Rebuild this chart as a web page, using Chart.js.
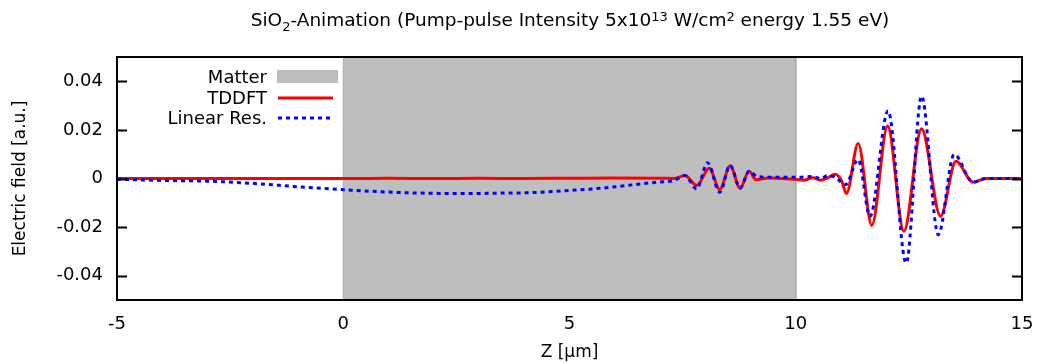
<!DOCTYPE html>
<html lang="en">
<head>
<meta charset="UTF-8" />
<title>SiO2-Animation</title>
<script src="https://cdn.jsdelivr.net/npm/chart.js@4"></script>
<style>
  html, body { margin: 0; padding: 0; background: #fff; }
  #wrap { width: 1038px; height: 363px; }
</style>
</head>
<body>
<div id="wrap"><canvas id="fieldPlot"></canvas></div>
<script>
const zTicks = [-5, 0, 5, 10, 15];
const fieldTicks = [-0.04, -0.02, 0, 0.02, 0.04];

// matter slab (0..10 um), drawn as a filled box
const matterZ = [0, 0, 10, 10];
const matterE = [-0.05, 0.05, 0.05, -0.05];

const tddftZ = [-5, -3, -1, 0, 1, 2, 3, 4, 5, 6, 7, 7.3, 7.55, 7.81, 8.09, 8.32, 8.55, 8.77, 8.97, 9.12, 9.4, 9.7,
  10.02, 10.17, 10.39, 10.54, 10.68, 10.87, 11.01, 11.12, 11.38, 11.68, 12.03, 12.39, 12.78, 13.2, 13.54, 13.92, 14.2, 15];
const tddftE = [0, 0, 0, 0, 0.0001, 0, 0.0001, 0, 0.0001, 0.0002, 0.0001, 0, 0.0012, -0.0028, 0.0042, -0.0045, 0.0052, -0.004, 0.003, -0.0005, 0.0002, 0,
  -0.0004, -0.0007, 0.0003, -0.0007, 0, 0.0018, -0.0008, -0.0062, 0.0144, -0.0193, 0.0216, -0.0217, 0.0205, -0.0155, 0.0071, -0.0015, 0, 0];

const linResZ = [-5, -4, -3, -2, -1, 0, 1, 2, 2.8, 3.5, 4.2, 4.9, 5.7, 6.4, 7, 7.3, 7.55, 7.81, 8.05, 8.32, 8.55, 8.77, 8.97, 9.15, 9.5, 10,
  10.35, 10.55, 10.71, 10.87, 11.1, 11.38, 11.64, 12.04, 12.44, 12.78, 13.15, 13.5, 13.92, 14.2, 15];
const linResE = [-0.0003, -0.0008, -0.0011, -0.002, -0.0034, -0.0046, -0.0056, -0.0061, -0.0062, -0.006, -0.0058, -0.005, -0.004, -0.0026, -0.0014, -0.0009, 0.0012, -0.0043, 0.0065, -0.0057, 0.0054, -0.0039, 0.003, 0.0008, 0.0005, 0.0005,
  0.0008, 0, 0.0012, 0.0005, -0.0025, 0.0078, -0.0155, 0.0278, -0.0348, 0.0339, -0.0231, 0.0099, -0.0015, 0, 0];

const legendLabels = ["Matter", "TDDFT", "Linear Res."];
const titleParts = [
  { text: "SiO", shift: 0 },
  { text: "2", shift: 1 },
  { text: "-Animation (Pump-pulse Intensity 5x10", shift: 0 },
  { text: "13", shift: -1 },
  { text: " W/cm", shift: 0 },
  { text: "2", shift: -1 },
  { text: " energy 1.55 eV)", shift: 0 },
];

const FONT = "'DejaVu Sans', sans-serif";
const toPoints = (xs, ys) => xs.map((x, i) => ({ x, y: ys[i] }));

const framePlugin = {
  id: "frame",
  afterDatasetsDraw(chart) {
    const { ctx, chartArea: a, scales } = chart;
    ctx.save();
    ctx.strokeStyle = "#000";
    ctx.lineWidth = 2;
    ctx.strokeRect(a.left, a.top, a.right - a.left, a.bottom - a.top);
    ctx.beginPath();
    fieldTicks.forEach((v) => {
      const y = Math.round(scales.y.getPixelForValue(v)) + 0.5;
      ctx.moveTo(a.left, y); ctx.lineTo(a.left + 10, y);
      ctx.moveTo(a.right, y); ctx.lineTo(a.right - 10, y);
    });
    ctx.stroke();
    ctx.restore();
  },
  afterDraw(chart) {
    const { ctx } = chart;
    ctx.save();
    ctx.fillStyle = "#000";
    ctx.textBaseline = "alphabetic";

    // title with sub/superscripts
    const big = "18.5px " + FONT, small = "13px " + FONT;
    let total = 0;
    titleParts.forEach((p) => { ctx.font = p.shift ? small : big; total += ctx.measureText(p.text).width; });
    let x = 570 - total / 2;
    titleParts.forEach((p) => {
      ctx.font = p.shift ? small : big;
      ctx.fillText(p.text, x, 26 + p.shift * 5);
      x += ctx.measureText(p.text).width;
    });

    // key, top left inside the plot
    ctx.font = "18px " + FONT;
    ctx.textAlign = "right";
    const rows = [83, 104, 124];
    legendLabels.forEach((t, i) => ctx.fillText(t, 267, rows[i]));
    ctx.fillStyle = "#bebebe";
    ctx.fillRect(277, 70, 61, 13);
    ctx.lineWidth = 3;
    ctx.strokeStyle = "#ff0000";
    ctx.beginPath(); ctx.moveTo(278, 98); ctx.lineTo(333, 98); ctx.stroke();
    ctx.strokeStyle = "#0000ff";
    ctx.setLineDash([4, 4]);
    ctx.beginPath(); ctx.moveTo(278, 118); ctx.lineTo(333, 118); ctx.stroke();
    ctx.restore();
  },
};

new Chart(document.getElementById("fieldPlot"), {
  type: "line",
  data: {
    datasets: [
      {
        label: legendLabels[0],
        data: toPoints(matterZ, matterE),
        fill: "start",
        backgroundColor: "#bebebe",
        borderColor: "#a8a8a8",
        borderWidth: 1,
        pointRadius: 0,
        order: 3,
      },
      {
        label: legendLabels[1],
        data: toPoints(tddftZ, tddftE),
        borderColor: "#ff0000",
        borderWidth: 3,
        pointRadius: 0,
        fill: false,
        cubicInterpolationMode: "monotone",
        order: 2,
      },
      {
        label: legendLabels[2],
        data: toPoints(linResZ, linResE),
        borderColor: "#0000ff",
        borderWidth: 3,
        borderDash: [4, 4],
        pointRadius: 0,
        fill: false,
        cubicInterpolationMode: "monotone",
        order: 1,
      },
    ],
  },
  options: {
    responsive: true,
    maintainAspectRatio: false,
    animation: false,
    layout: { padding: { top: 57, right: 16, left: 0, bottom: 0 } },
    plugins: { legend: { display: false }, title: { display: false }, tooltip: { enabled: false } },
    scales: {
      x: {
        type: "linear",
        min: -5,
        max: 15,
        afterBuildTicks: (s) => { s.ticks = zTicks.map((v) => ({ value: v })); },
        afterFit: (s) => { s.height = 63; s.paddingLeft = 0; s.paddingRight = 0; },
        grid: { display: false, drawTicks: false },
        border: { display: false },
        ticks: { color: "#000", padding: 14, maxRotation: 0, font: { family: FONT, size: 18 } },
        title: { display: true, text: "Z [\u00b5m]", color: "#000", font: { family: FONT, size: 17 }, padding: { top: 0, bottom: 0 } },
      },
      y: {
        type: "linear",
        min: -0.05,
        max: 0.05,
        afterBuildTicks: (s) => { s.ticks = fieldTicks.map((v) => ({ value: v })); },
        afterFit: (s) => { s.width = 117; },
        grid: { display: false, drawTicks: false },
        border: { display: false },
        ticks: {
          color: "#000",
          padding: 14,
          font: { family: FONT, size: 18 },
          callback: (v) => (v === 0 ? "0" : v.toFixed(2)),
        },
        title: { display: true, text: "Electric field [a.u.]", color: "#000", font: { family: FONT, size: 17 }, padding: { top: 10, bottom: 0 } },
      },
    },
  },
  plugins: [framePlugin],
});
</script>
</body>
</html>
